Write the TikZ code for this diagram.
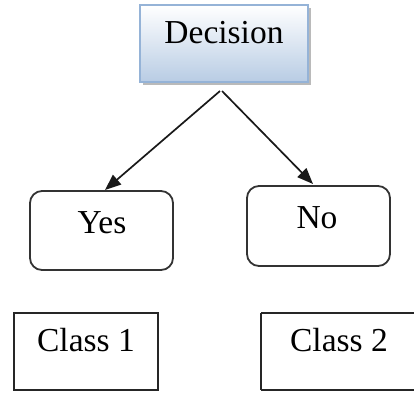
\documentclass[tikz,border=0pt]{standalone}
\usepackage{fontspec}
\setmainfont{Liberation Serif}
\usetikzlibrary{arrows.meta,shadows}
\definecolor{decfill}{HTML}{B8CCE4}
\definecolor{decdraw}{HTML}{95B3D7}
\tikzset{
  txt/.style={anchor=base,inner sep=0pt,font=\fontsize{33.5}{40}\selectfont},
  decbox/.style={draw=decdraw,line width=1.4pt,top color=white,bottom color=decfill,
    drop shadow={shadow xshift=2.5pt,shadow yshift=-3pt,fill=black!45,opacity=0.6}},
  roundbox/.style={draw=black!80,line width=1.8pt,rounded corners=12pt},
  classbox/.style={draw=black!85,line width=1.8pt},
  arr/.style={draw=black!90,line width=1.7pt,-{Triangle[length=16pt,width=12.5pt]}}
}
\begin{document}
\begin{tikzpicture}[x=1pt,y=-1pt]
\useasboundingbox (0,0) rectangle (414,392);
\clip (0,0) rectangle (414,392);
% boxes
\path[decbox] (140,5) rectangle (308,82);
\node[inner sep=0pt,minimum width=168pt,minimum height=77pt] (dec) at (224,43.5) {};
\draw[roundbox] (30,191) rectangle (173,270);
\node[inner sep=0pt,minimum width=143pt,minimum height=79pt] (yes) at (101.5,230.5) {};
\draw[roundbox] (247,186) rectangle (390,266);
\node[inner sep=0pt,minimum width=143pt,minimum height=80pt] (no) at (318.5,226) {};
\node[classbox,inner sep=0pt,minimum width=144pt,minimum height=77pt] (c1) at (86,351.5) {};
\draw[classbox] (261,313) -- (420,313) (261,390) -- (420,390) (261,313) -- (261,390);
% texts
\node[txt] (tdec) at (224,43) {Decision};
\node[txt] (tyes) at (102,233) {Yes};
\node[txt] (tno) at (317,228) {No};
\node[txt] (tc1) at (86,351) {Class 1};
\node[txt] (tc2) at (339,351) {Class 2};
% connectors
\coordinate (s1) at (220,91);
\coordinate (s2) at (222,91);
\coordinate (e1) at (105,190);
\coordinate (e2) at (313,184);
\draw[arr] (s1) -- (e1);
\draw[arr] (s2) -- (e2);
\end{tikzpicture}
\end{document}
